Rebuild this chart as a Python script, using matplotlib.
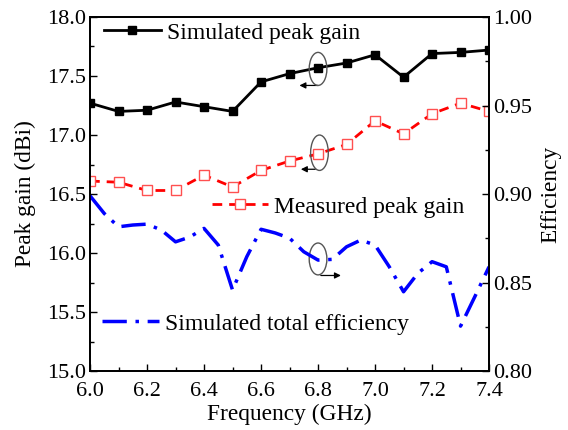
import numpy as np
import matplotlib
matplotlib.use("Agg")
import matplotlib.pyplot as plt
from matplotlib.patches import Ellipse

plt.rcParams['font.family'] = ['Liberation Serif', 'DejaVu Serif']
plt.rcParams['mathtext.fontset'] = 'stix'

# gain data, 0.1 GHz steps
freq = np.round(np.arange(6.0, 7.41, 0.1), 2)
sim_gain = [17.27, 17.20, 17.21, 17.28, 17.24, 17.20, 17.45, 17.52,
            17.57, 17.61, 17.68, 17.49, 17.69, 17.70, 17.72]
meas_gain = [16.61, 16.60, 16.53, 16.53, 16.66, 16.56, 16.70, 16.78,
             16.84, 16.92, 17.12, 17.01, 17.18, 17.27, 17.20]

# efficiency data, 0.05 GHz steps
freq_eff = np.round(np.arange(6.0, 7.401, 0.05), 3)
sim_eff = [0.899, 0.889, 0.8815, 0.8825, 0.883, 0.8797, 0.873, 0.8757,
           0.8806, 0.8712, 0.8458, 0.8646, 0.8801, 0.878, 0.8751, 0.8674,
           0.8627, 0.8631, 0.8702, 0.874, 0.8712, 0.8589, 0.8448, 0.8552,
           0.8618, 0.8589, 0.8254, 0.842, 0.8589]

fs_tick = 16
fs_lab = 16.8
fs_leg = 17
fig = plt.figure(figsize=(5.68, 4.30), dpi=100)
ax = fig.add_axes([0.1585, 0.137, 0.7025, 0.8235])
ax2 = ax.twinx()

l1, = ax.plot(freq, sim_gain, color='black', lw=2, marker='s', ms=6,
              mfc='black', mec='black')
l2, = ax.plot(freq, meas_gain, color='red', lw=2, ls=(0, (3.5, 2.5)),
              marker='s', ms=6.5, mfc='white', mec='#ff5050', mew=1)
l3, = ax2.plot(freq_eff, sim_eff, color='blue', lw=2.5,
               ls=(0, (7, 2.5, 1, 2.5)))

ax.set_xlim(6.0, 7.4)
ax.set_ylim(15.0, 18.0)
ax2.set_ylim(0.80, 1.00)

ax.set_xticks(np.arange(6.0, 7.41, 0.2))
ax.set_xticks(np.arange(6.0, 7.41, 0.1), minor=True)
ax.set_yticks(np.arange(15.0, 18.01, 0.5))
ax.set_yticks(np.arange(15.0, 18.01, 0.25), minor=True)
ax2.set_yticks(np.arange(0.80, 1.001, 0.05))
ax2.set_yticks(np.arange(0.80, 1.001, 0.025), minor=True)
ax.xaxis.set_major_formatter(matplotlib.ticker.FormatStrFormatter('%.1f'))
ax.yaxis.set_major_formatter(matplotlib.ticker.FormatStrFormatter('%.1f'))
ax2.yaxis.set_major_formatter(matplotlib.ticker.FormatStrFormatter('%.2f'))

for a in (ax, ax2):
    a.tick_params(which='both', direction='in', labelsize=fs_tick, top=False)
    a.tick_params(which='major', length=5, width=1)
    a.tick_params(which='minor', length=3, width=1)
    for s in a.spines.values():
        s.set_linewidth(1.3)
ax.tick_params(axis='y', right=False, pad=3)
ax2.tick_params(axis='y', pad=3)
ax.tick_params(axis='x', pad=8)

ax.set_xlabel('Frequency (GHz)', fontsize=fs_lab, labelpad=2)
ax.set_ylabel('Peak gain (dBi)', fontsize=fs_lab, labelpad=8)
ax2.set_ylabel('Efficiency', fontsize=fs_lab, labelpad=6)

# one legend per curve
leg_kw = dict(frameon=False, fontsize=fs_leg, handlelength=2.4, borderpad=0,
              borderaxespad=0, handletextpad=0.25, loc='center left')
lg1 = ax.legend([l1], ['Simulated peak gain'], bbox_to_anchor=(0.035, 0.955), **leg_kw)
ax.add_artist(lg1)
lg2 = ax.legend([l2], ['Measured peak gain'], bbox_to_anchor=(0.305, 0.464), **leg_kw)
ax.add_artist(lg2)
lg3 = ax.legend([l3], ['Simulated total efficiency'], bbox_to_anchor=(0.03, 0.133), **leg_kw)

# ellipses marking which axis each curve belongs to
ell_color = '#555555'
for cx, cy, h in [(6.80, 17.56, 0.28), (6.805, 16.85, 0.30), (6.80, 15.95, 0.27)]:
    ax.add_patch(Ellipse((cx, cy), 0.062, h, fill=False, ec=ell_color, lw=1, zorder=5))

arrow = dict(arrowstyle='-|>', color='black', lw=0.9, mutation_scale=9)
ax.annotate('', xy=(6.725, 17.42), xytext=(6.81, 17.42), arrowprops=arrow)
ax.annotate('', xy=(6.73, 16.71), xytext=(6.80, 16.71), arrowprops=arrow)
ax.annotate('', xy=(6.89, 15.81), xytext=(6.80, 15.81), arrowprops=arrow)

fig.savefig('out.png', dpi=100)
